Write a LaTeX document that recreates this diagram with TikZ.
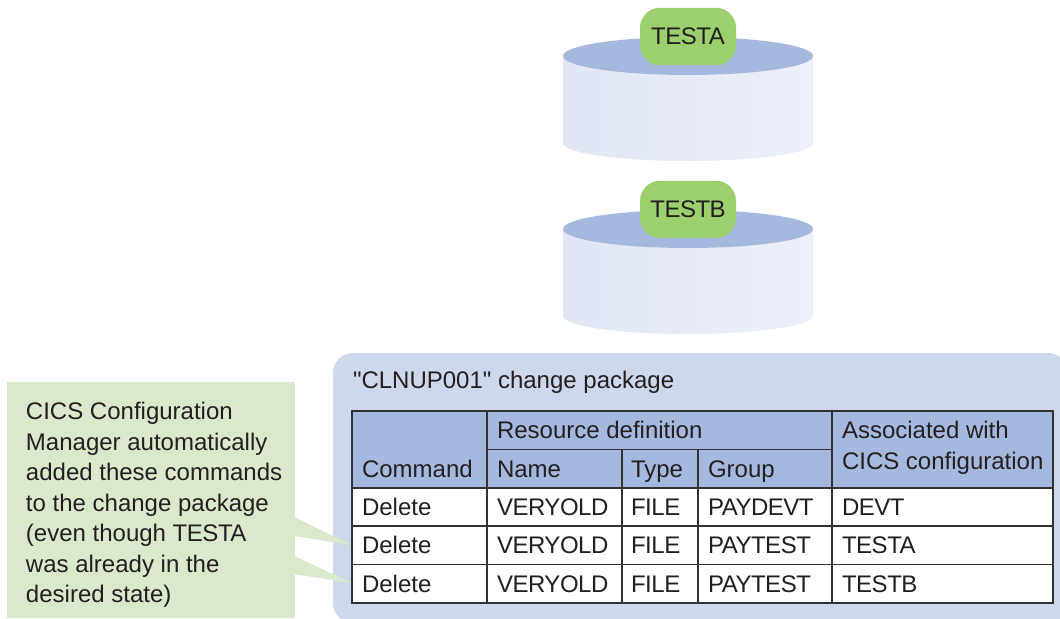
\documentclass[tikz,border=0pt]{standalone}
\usepackage{fontspec}
\setmainfont{Liberation Sans}
\newfontfamily\tightf[LetterSpace=-2]{Liberation Sans}
\newfontfamily\plainf{Liberation Sans}
\usetikzlibrary{shadings}
\definecolor{inkc}{HTML}{231F20}
\definecolor{linec}{HTML}{333333}
\definecolor{headc}{HTML}{A5B9DF}
\definecolor{panelc}{HTML}{CDD8EC}
\definecolor{notec}{HTML}{DAE9CB}
\definecolor{tagc}{HTML}{9CCF6E}
\definecolor{sideL}{HTML}{E0E6F4}
\definecolor{sideR}{HTML}{ECF0F9}
\tikzset{
  txt/.style={anchor=base west,inner sep=0pt,outer sep=0pt,text=inkc,font=\fontsize{18}{18}\selectfont},
  captxt/.style={txt,font=\fontsize{18}{18}\tightf},
  tag/.style={draw=none,fill=tagc,rounded corners=15pt,minimum width=72pt,minimum height=43pt,inner sep=0pt,text=inkc,font=\fontsize{18}{18}\tightf,anchor=center},
  rule/.style={draw=linec,line width=0.8pt},
  sidefill/.style={left color=sideL,right color=sideR,draw=none},
  topfill/.style={fill=headc,draw=none}
}
\begin{document}
\begin{tikzpicture}[x=0.75pt,y=-0.75pt]
\useasboundingbox (0,0) rectangle (1060,618);
% cylinders
\path[sidefill] (563,56) -- (563,143) arc[start angle=180,end angle=0,x radius=125,y radius=18] -- (813,56) -- cycle;
\path[topfill] (688,56) ellipse[x radius=125,y radius=19];
\path[sidefill] (563,229) -- (563,316) arc[start angle=180,end angle=0,x radius=125,y radius=18] -- (813,229) -- cycle;
\path[topfill] (688,229) ellipse[x radius=125,y radius=19];
\node[tag] (testa) at (688,36.5) {TESTA};
\node[tag] (testb) at (688,209.5) {TESTB};
% panel
\begin{scope}
\clip (0,0) rectangle (1060,618);
\path[fill=panelc,rounded corners=15pt] (333,353) rectangle (1068,623);
\end{scope}
% note and wedges
\path[fill=notec] (7,382) rectangle (295,618);
\path[fill=notec] (294,517) -- (352,545) -- (294,536) -- cycle;
\path[fill=notec] (294,556) -- (352,583) -- (294,574) -- cycle;
% table
\path[fill=headc] (352,411) rectangle (1053,488);
\path[fill=white] (352,488) rectangle (1053,603);
\draw[rule] (352,411) rectangle (1053,603);
\draw[rule] (352,488) -- (1053,488);
\draw[rule] (352,526) -- (1053,526);
\draw[rule] (352,564.5) -- (1053,564.5);
\draw[rule] (487,449.5) -- (832,449.5);
\draw[rule] (487,411) -- (487,603);
\draw[rule] (832,411) -- (832,603);
\draw[rule] (622,449.5) -- (622,603);
\draw[rule] (698,449.5) -- (698,603);
% texts
\node[txt] (title) at (353,388) {{\plainf "}CLNUP001{\plainf "} change package};
\node[txt] (n1) at (26,419) {CICS Configuration};
\node[txt] (n2) at (26,450) {Manager automatically};
\node[txt] (n3) at (26,480) {added these commands};
\node[txt] (n4) at (26,511) {to the change package};
\node[txt] (n5) at (26,541) {(even though {\tightf TESTA}};
\node[txt] (n6) at (26,572) {was already in the};
\node[txt] (n7) at (26,602) {desired state)};
\node[txt] (hres) at (497,438) {Resource definition};
\node[txt] (hass) at (842,438) {Associated with};
\node[txt] (hcics) at (842,469) {CICS configuration};
\node[txt] (hcmd) at (362,477) {Command};
\node[txt] (hname) at (497,477) {Name};
\node[txt] (htype) at (631,477) {Type};
\node[txt] (hgroup) at (708,477) {Group};
\node[txt] (a1) at (362,515) {Delete};
\node[captxt] (a2) at (497,515) {VERYOLD};
\node[captxt] (a3) at (631,515) {FILE};
\node[captxt] (a4) at (708,515) {PAYDEVT};
\node[captxt] (a5) at (842,515) {DEVT};
\node[txt] (b1) at (362,553) {Delete};
\node[captxt] (b2) at (497,553) {VERYOLD};
\node[captxt] (b3) at (631,553) {FILE};
\node[captxt] (b4) at (708,553) {PAYTEST};
\node[captxt] (b5) at (842,553) {TESTA};
\node[txt] (c1) at (362,592) {Delete};
\node[captxt] (c2) at (497,592) {VERYOLD};
\node[captxt] (c3) at (631,592) {FILE};
\node[captxt] (c4) at (708,592) {PAYTEST};
\node[captxt] (c5) at (842,592) {TESTB};
\end{tikzpicture}
\end{document}
